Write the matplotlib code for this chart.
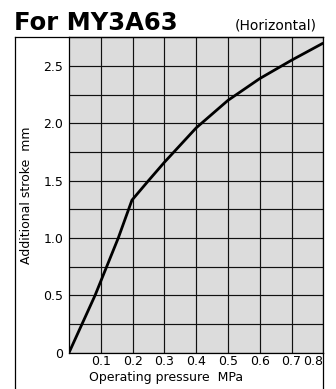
import numpy as np
import matplotlib
matplotlib.use("Agg")
import matplotlib.pyplot as plt
from matplotlib.lines import Line2D

## curve (pressure in MPa, stroke in mm)
pressure = [0.0, 0.082, 0.155, 0.198, 0.25, 0.30, 0.35, 0.40, 0.50, 0.60, 0.70, 0.80]
stroke = [0.0, 0.50, 1.00, 1.33, 1.50, 1.66, 1.81, 1.96, 2.20, 2.39, 2.55, 2.70]

x_ticks = [0.1, 0.2, 0.3, 0.4, 0.5, 0.6, 0.7, 0.8]
x_labels = ["0.1", "0.2", "0.3", "0.4", "0.5", "0.6", "0.7", "0.8"]
y_ticks = [0, 0.5, 1.0, 1.5, 2.0, 2.5]
y_labels = ["0", "0.5", "1.0", "1.5", "2.0", "2.5"]
y_minor = [0.25, 0.75, 1.25, 1.75, 2.25]

W, H = 336, 389
fig = plt.figure(figsize=(W / 100, H / 100), dpi=100)
fig.patch.set_facecolor("white")

left, right, top, bottom = 69, 323.3, 37.3, 352.7
ax = fig.add_axes([left / W, 1 - bottom / H, (right - left) / W, (bottom - top) / H])
ax.set_facecolor("#dcdcdc")

ax.plot(pressure, stroke, color="black", lw=2.0, solid_capstyle="butt", zorder=3)

ax.set_xlim(0, 0.8)
ax.set_ylim(0, 2.75)
ax.set_xticks(x_ticks)
ax.set_xticklabels(x_labels, fontsize=9)
ax.set_yticks(y_ticks)
ax.set_yticklabels(y_labels, fontsize=9)
ax.set_yticks(y_minor, minor=True)
ax.tick_params(axis="both", which="both", length=0)
ax.tick_params(axis="x", pad=2)
ax.tick_params(axis="y", pad=4)
ax.grid(True, which="both", color="#111111", lw=0.85)
ax.set_axisbelow(True)
for s in ax.spines.values():
    s.set_color("black")
    s.set_linewidth(0.9)

## last x label sits inside the right edge
lab = ax.get_xticklabels()
lab[-1].set_horizontalalignment("right")

## outer frame
fl = 15
kw = dict(color="black", lw=0.9, transform=fig.transFigure)
fig.add_artist(Line2D([fl / W, right / W], [1 - top / H, 1 - top / H], **kw))
fig.add_artist(Line2D([fl / W, fl / W], [1 - top / H, 0], **kw))
fig.add_artist(Line2D([right / W, right / W], [1 - bottom / H, 0], **kw))

fig.text(14 / W, 1 - 30.5 / H, "For MY3A63", fontsize=17.5, fontweight="bold", va="baseline", ha="left")
fig.text(317 / W, 1 - 29.5 / H, "(Horizontal)", fontsize=10, va="baseline", ha="right")
fig.text(166.5 / W, 1 - 377.5 / H, "Operating pressure  MPa", fontsize=9, ha="center", va="center")
fig.text(27 / W, 1 - 195 / H, "Additional stroke  mm", fontsize=9, ha="center", va="center", rotation=90)

fig.savefig("out.png", dpi=100)
